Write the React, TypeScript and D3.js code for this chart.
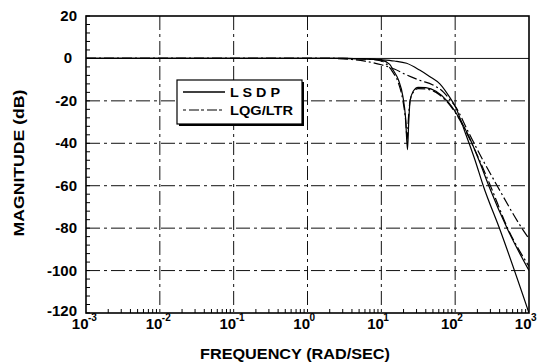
import React from "react";
import * as d3 from "d3";

const yTicks = [20, 0, -20, -40, -60, -80, -100, -120];
const xDecades = [-3, -2, -1, 0, 1, 2, 3];

const lsdpAFreq = [0.001, 3, 6, 10, 15, 22, 33, 45, 62, 85, 100, 140, 186, 240, 407, 1000];
const lsdpAMag = [0, 0, -0.2, -0.6, -1.2, -2.3, -5.5, -8.5, -12, -18.5, -22.5, -36, -48, -60, -81, -120];

const lsdpBFreq = [0.001, 3, 6, 10, 13, 14.5, 17, 19.6, 21.3, 22.6, 23.5, 24.5, 27, 31.5, 40, 55, 80, 100, 150, 210, 285, 520, 1000];
const lsdpBMag = [0, 0, -0.2, -0.8, -2.8, -5.6, -10, -18, -28, -43, -30, -20, -15.5, -13.6, -13.8, -15.5, -20.5, -25, -36, -48, -60, -81, -100];

const lqgAFreq = [0.001, 2, 4, 6, 10, 15, 22, 33, 50, 70, 85, 100, 150, 238, 370, 800, 1000];
const lqgAMag = [0, 0, -0.5, -1.3, -3, -5, -7.8, -10.3, -12.5, -16, -19.5, -22.5, -34.5, -48, -60, -80, -85];

const lqgBFreq = [0.001, 3, 6, 10, 12, 14, 17, 19.6, 21.3, 22.4, 23.3, 24.5, 27, 31.5, 40, 55, 80, 100, 150, 220, 300, 530, 1000];
const lqgBMag = [0, 0, -0.3, -1.2, -3, -6, -11.5, -20, -29, -38, -28, -20, -16, -14.2, -14.4, -16, -21, -25.5, -36.5, -49, -60, -81, -98];

const legendLabels = ["L S D P", "LQG/LTR"];

const W = 544;
const H = 364;
const L = 86, R = 529, T = 16, B = 313;
const FONT = "'Liberation Sans', Arial, sans-serif";
const DASHDOT = "10,3,2,3";

export default function App() {
  const x = d3.scaleLog().domain([1e-3, 1e3]).range([L, R]);
  const y = d3.scaleLinear().domain([-120, 20]).range([B, T]);
  const line = d3
    .line<[number, number]>()
    .x((d) => x(d[0]))
    .y((d) => y(d[1]))
    .curve(d3.curveMonotoneX);
  const mk = (f: number[], m: number[]) => line(f.map((v, i) => [v, m[i]] as [number, number])) || "";

  const series = [
    { f: lsdpAFreq, m: lsdpAMag, dash: undefined },
    { f: lsdpBFreq, m: lsdpBMag, dash: undefined },
    { f: lqgAFreq, m: lqgAMag, dash: DASHDOT },
    { f: lqgBFreq, m: lqgBMag, dash: DASHDOT },
  ];

  const minorY = d3.range(-120, 21, 4);
  const minorX: number[] = [];
  for (let e = -3; e < 3; e++) for (let k = 2; k <= 9; k++) minorX.push(k * Math.pow(10, e));

  const lx = 177, ly = 80, lw = 125, lh = 44;

  return (
    <svg width={W} height={H} style={{ position: "absolute", left: 0, top: 0, background: "#fff" }} fontFamily={FONT}>
      <rect x={0} y={0} width={W} height={H} fill="#fff" />
      <defs>
        <clipPath id="plot">
          <rect x={L} y={T} width={R - L} height={B - T} />
        </clipPath>
      </defs>
      {/* grid */}
      {yTicks.slice(1, -1).map((t) => (
        <line key={"gy" + t} x1={L} x2={R} y1={y(t)} y2={y(t)} stroke="#111" strokeWidth={1} strokeDasharray={t === 0 ? undefined : "14,4,3,4"} />
      ))}
      {xDecades.slice(1, -1).map((e) => (
        <line key={"gx" + e} x1={x(Math.pow(10, e))} x2={x(Math.pow(10, e))} y1={T} y2={B} stroke="#111" strokeWidth={1} strokeDasharray="14,4,3,4" />
      ))}
      {/* minor ticks */}
      {minorY.map((t) => (
        <line key={"my" + t} x1={L} x2={L + 4} y1={y(t)} y2={y(t)} stroke="#000" strokeWidth={1} />
      ))}
      {minorX.map((f, i) => (
        <line key={"mx" + i} x1={x(f)} x2={x(f)} y1={B} y2={B - 4} stroke="#000" strokeWidth={1} />
      ))}
      {/* curves */}
      <g clipPath="url(#plot)">
        {series.map((s, i) => (
          <path key={i} d={mk(s.f, s.m)} fill="none" stroke="#000" strokeWidth={1.2} strokeDasharray={s.dash} />
        ))}
      </g>
      {/* frame */}
      <rect x={L} y={T} width={R - L} height={B - T} fill="none" stroke="#000" strokeWidth={1.6} />
      {/* y labels */}
      {yTicks.map((t) => (
        <text key={"yl" + t} x={t === 0 ? 72 : 77} y={y(t) + (t === -120 ? 3 : 5)} textAnchor="end" fontSize={15} fontWeight="bold">
          {t}
        </text>
      ))}
      {/* x labels */}
      {xDecades.map((e) => {
        const px = x(Math.pow(10, e));
        return (
          <g key={"xl" + e}>
            <text x={px + 2.5} y={329} textAnchor="end" fontSize={15} fontWeight="bold">10</text>
            <text x={px + 2} y={321} textAnchor="start" fontSize={10} fontWeight="bold">{e}</text>
          </g>
        );
      })}
      {/* axis titles */}
      <text x={295} y={359} textAnchor="middle" fontSize={14} fontWeight="bold" textLength={190} lengthAdjust="spacingAndGlyphs">
        FREQUENCY  (RAD/SEC)
      </text>
      <text transform={`translate(24,163) rotate(-90)`} textAnchor="middle" fontSize={14.5} fontWeight="bold" textLength={147} lengthAdjust="spacingAndGlyphs">
        MAGNITUDE  (dB)
      </text>
      {/* legend */}
      <rect x={lx + 2} y={ly + 2} width={lw} height={lh} fill="#000" />
      <rect x={lx} y={ly} width={lw} height={lh} fill="#fff" stroke="#000" strokeWidth={1.2} />
      <line x1={lx + 6} x2={lx + 48} y1={92} y2={92} stroke="#000" strokeWidth={1.3} />
      <line x1={lx + 6} x2={lx + 48} y1={110} y2={110} stroke="#000" strokeWidth={1.2} strokeDasharray="3,3,10,2" />
      <text x={230} y={96.5} fontSize={12.5} fontWeight="bold" textLength={50} lengthAdjust="spacingAndGlyphs">{legendLabels[0]}</text>
      <text x={230} y={115} fontSize={12.5} fontWeight="bold" textLength={63} lengthAdjust="spacingAndGlyphs">{legendLabels[1]}</text>
    </svg>
  );
}
